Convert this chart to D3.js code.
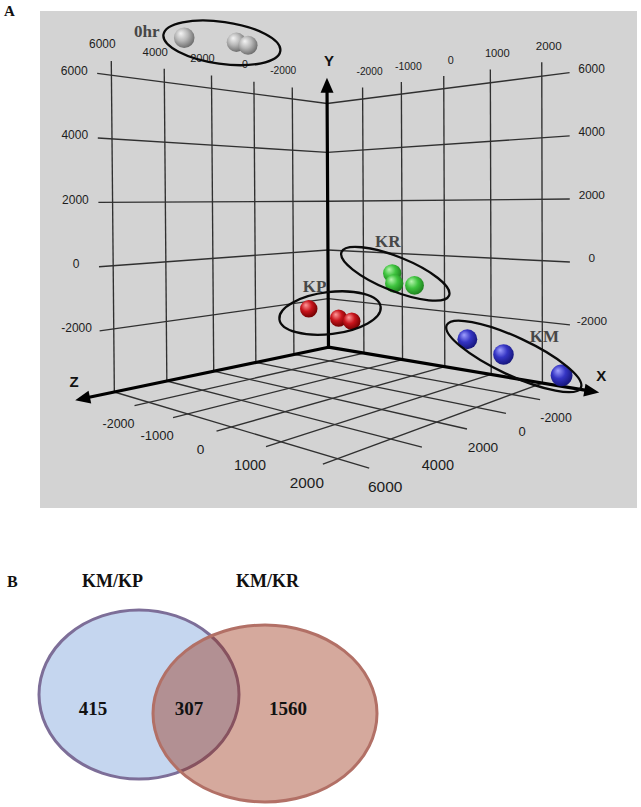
<!DOCTYPE html>
<html><head><meta charset="utf-8">
<script src="https://cdn.jsdelivr.net/npm/d3@7"></script>
<style>body{margin:0;background:#fff;} svg{display:block;}</style>
</head><body>
<svg id="chart" width="641" height="807"></svg>
<script>
// ================= DATA =================
// Panel A: 3D PCA plot
const xTicks = [-2000, -1000, 0, 1000, 2000];     // along the X arrow (right)
const zTicks = [6000, 4000, 2000, 0, -2000];      // along the Z arrow (left)
const yTicks = [6000, 4000, 2000, 0, -2000];      // vertical
const xDomain = [-3000, 2500];
const yDomain = [-4000, 6450];
const zDomain = [-4000, 6500];

const groupNames  = ["0hr", "KP", "KR", "KM"];
const groupColors = {"0hr": ["#f4f4f4", "#b8b8b8", "#6a6a6a"],
                     "KP":  ["#ff9a9a", "#c8141c", "#6e0000"],
                     "KR":  ["#b8f5b0", "#3fc43f", "#1c7f1c"],
                     "KM":  ["#a0a0ff", "#3535c4", "#15157a"]};
const sampleGroup = ["0hr", "0hr", "0hr", "KP", "KP", "KP", "KR", "KR", "KR", "KM", "KM", "KM"];
const sampleX     = [-3000, -3000, -3000, -3000, -2700, -2330, -1250, -1200, -700, 500, 1250, 2350];
const sampleY     = [7600, 7790, 7760, -2300, -2750, -2800, -770, -1150, -1160, -2900, -3250, -3650];
const sampleZ     = [3170, 840, 280, -2850, -4000, -4000, -4000, -4000, -4000, -4000, -4000, -4000];

// Panel B: Venn
const vennSets   = ["KM/KP", "KM/KR"];
const vennCounts = [415, 307, 1560];   // KM/KP only, both, KM/KR only

// ================= PROJECTION (camera calibration) =================
// [x, y, z, screenU, screenV] reference correspondences of the plot box
const calib = [
  [-3000, 6000, -4000, 328, 102], [-3000, 4000, -4000, 328, 152], [-3000, 2000, -4000, 328, 201],
  [-3000, 0, -4000, 328, 250], [-3000, -2000, -4000, 328, 300], [-3000, -4000, -4000, 328, 348],
  [-3000, 6000, 6500, 97, 73], [-3000, 4000, 6500, 99, 138], [-3000, 2000, 6500, 99, 202],
  [-3000, 0, 6500, 100, 265], [-3000, -2000, 6500, 101, 330],
  [2500, 6000, -4000, 570, 73], [2500, 4000, -4000, 570, 136], [2500, 2000, -4000, 570, 200],
  [2500, 0, -4000, 570, 260], [2500, -2000, -4000, 570, 322],
  [-3000, 6450, 6000, 110, 61], [-3000, 6450, 4000, 163, 69], [-3000, 6450, 2000, 211, 76],
  [-3000, 6450, 0, 254, 82], [-3000, 6450, -2000, 293, 87],
  [-2000, 6450, -4000, 361, 88], [-1000, 6450, -4000, 400, 82], [0, 6450, -4000, 443, 77],
  [1000, 6450, -4000, 491, 70], [2000, 6450, -4000, 543, 63],
  [2500, -4000, -2000, 540, 400], [2500, -4000, 0, 505, 413], [2500, -4000, 2000, 467, 429],
  [2500, -4000, 4000, 422, 448], [2500, -4000, 6000, 368, 468],
  [-2000, -4000, 6500, 133, 405], [-1000, -4000, 6500, 172, 418], [0, -4000, 6500, 217, 432],
  [1000, -4000, 6500, 267, 447], [2000, -4000, 6500, 323, 465],
  [-3000, -4000, 6000, 115, 393]
];
const nW = d3.scaleLinear().domain([0, 1000]).range([0, 1]);
const nU = d3.scaleLinear().domain([320, 420]).range([0, 1]);
const nV = d3.scaleLinear().domain([250, 350]).range([0, 1]);

function fitCamera(corr) {
  const rows = [], rhs = [];
  corr.forEach(([x, y, z, u, v]) => {
    const X = nW(x), Y = nW(y), Z = nW(z), U = nU(u), V = nV(v);
    rows.push([X, Y, Z, 1, 0, 0, 0, 0, -U * X, -U * Y, -U * Z]); rhs.push(U);
    rows.push([0, 0, 0, 0, X, Y, Z, 1, -V * X, -V * Y, -V * Z]); rhs.push(V);
  });
  const n = 11;
  const M = Array.from({length: n}, () => new Array(n + 1).fill(0));
  rows.forEach((r, i) => {
    for (let j = 0; j < n; j++) {
      for (let k = 0; k < n; k++) M[j][k] += r[j] * r[k];
      M[j][n] += r[j] * rhs[i];
    }
  });
  for (let c = 0; c < n; c++) {
    let p = c;
    for (let r = c + 1; r < n; r++) if (Math.abs(M[r][c]) > Math.abs(M[p][c])) p = r;
    [M[c], M[p]] = [M[p], M[c]];
    for (let r = 0; r < n; r++) {
      if (r === c) continue;
      const f = M[r][c] / M[c][c];
      for (let k = c; k <= n; k++) M[r][k] -= f * M[c][k];
    }
  }
  return M.map((r, i) => r[n] / r[i]);
}
const P = fitCamera(calib);
function project(x, y, z) {
  const X = nW(x), Y = nW(y), Z = nW(z);
  const w = P[8] * X + P[9] * Y + P[10] * Z + 1;
  return [nU.invert((P[0] * X + P[1] * Y + P[2] * Z + P[3]) / w),
          nV.invert((P[4] * X + P[5] * Y + P[6] * Z + P[7]) / w)];
}
function localScale(x, y, z) {
  const a = project(x, y, z), b = project(x, y + 1000, z);
  return Math.hypot(a[0] - b[0], a[1] - b[1]);
}

// ================= DRAW =================
const svg = d3.select("#chart");
const SANS = "'Liberation Sans', Arial, sans-serif";
const SERIF = "'Liberation Serif', 'Times New Roman', serif";

svg.append("text").attr("x", 4).attr("y", 16).text("A")
  .attr("font-family", SERIF).attr("font-weight", "bold").attr("font-size", 15).attr("fill", "#111");

svg.append("rect").attr("x", 40).attr("y", 11).attr("width", 597).attr("height", 497).attr("fill", "#d3d3d3");

const [x0, x1] = xDomain, [y0, y1] = yDomain, [z0, z1] = zDomain;
const gridLines = [];
// floor
zTicks.forEach(t => gridLines.push([[x0, y0, t], [x1, y0, t]]));
xTicks.forEach(t => gridLines.push([[t, y0, z0], [t, y0, z1]]));
// left wall (x = x0)
zTicks.forEach(t => gridLines.push([[x0, y0, t], [x0, y1, t]]));
yTicks.forEach(t => gridLines.push([[x0, t, z0], [x0, t, z1]]));
// right wall (z = z0)
xTicks.forEach(t => gridLines.push([[t, y0, z0], [t, y1, z0]]));
yTicks.forEach(t => gridLines.push([[x0, t, z0], [x1, t, z0]]));

svg.append("g").selectAll("line").data(gridLines).join("line")
  .each(function (d) {
    const a = project(...d[0]), b = project(...d[1]);
    d3.select(this).attr("x1", a[0]).attr("y1", a[1]).attr("x2", b[0]).attr("y2", b[1]);
  })
  .attr("stroke", "#303030").attr("stroke-width", 1.35);

// axes with arrows
const axes = [
  {name: "Z", from: [x0, y0, z0], to: [x0, y0, 7350], lab: [-1, -18]},
  {name: "X", from: [x0, y0, z0], to: [3000, y0, z0], lab: [2, -17]},
  {name: "Y", from: [x0, y0, z0], to: [x0, 7050, z0], lab: [2, -17]}
];
const axG = svg.append("g");
axes.forEach(ax => {
  const a = project(...ax.from), b = project(...ax.to);
  const dx = b[0] - a[0], dy = b[1] - a[1], L = Math.hypot(dx, dy);
  const ux = dx / L, uy = dy / L, hl = 15, hw = 6.5;
  const base = [b[0] - ux * hl, b[1] - uy * hl];
  axG.append("line").attr("x1", a[0]).attr("y1", a[1]).attr("x2", base[0] + ux * 2).attr("y2", base[1] + uy * 2)
    .attr("stroke", "#000").attr("stroke-width", 3.2).attr("stroke-linecap", "round");
  axG.append("polygon").attr("points", [
    b, [base[0] - uy * hw, base[1] + ux * hw], [base[0] + uy * hw, base[1] - ux * hw]
  ].map(p => p.join(",")).join(" ")).attr("fill", "#000");
  axG.append("text").attr("x", b[0] + ax.lab[0]).attr("y", b[1] + ax.lab[1]).attr("dy", "0.35em")
    .attr("text-anchor", "middle").attr("font-family", SANS).attr("font-weight", "bold")
    .attr("font-size", 15).attr("fill", "#111").text(ax.name);
});

// tick labels
const tickLabels = [];
zTicks.forEach(t => tickLabels.push({t, p: [x0, y1, t], off: [-9, -17]}));          // left wall top
xTicks.forEach(t => tickLabels.push({t, p: [t, y1, z0], off: [7, -16]}));           // right wall top
yTicks.forEach(t => tickLabels.push({t, p: [x0, t, z1], off: [-23, -3]}));          // left Y
yTicks.forEach(t => tickLabels.push({t, p: [x1, t, z0], off: [22, -4]}));           // right Y
xTicks.forEach(t => tickLabels.push({t, p: [t, y0, z1], off: [-16, 18]}));          // floor left
zTicks.forEach(t => tickLabels.push({t, p: [x1, y0, t], off: [16, 18]}));           // floor right
svg.append("g").selectAll("text").data(tickLabels).join("text")
  .each(function (d) {
    const s = project(...d.p), fs = 3 + 0.28 * localScale(...d.p);
    d3.select(this).attr("x", s[0] + d.off[0]).attr("y", s[1] + d.off[1]).attr("font-size", fs.toFixed(1));
  })
  .attr("dy", "0.35em").attr("text-anchor", "middle").attr("font-family", SANS)
  .attr("fill", "#1c1c1c").text(d => d.t);

// sphere gradients
const defs = svg.append("defs");
groupNames.forEach((g, i) => {
  const gr = defs.append("radialGradient").attr("id", "sph" + i)
    .attr("cx", "0.42").attr("cy", "0.4").attr("r", "0.62").attr("fx", "0.33").attr("fy", "0.28");
  const c = groupColors[g];
  gr.append("stop").attr("offset", "0").attr("stop-color", c[0]);
  gr.append("stop").attr("offset", "0.5").attr("stop-color", c[1]);
  gr.append("stop").attr("offset", "1").attr("stop-color", c[2]);
});

const samples = sampleGroup.map((g, i) => {
  const s = project(sampleX[i], sampleY[i], sampleZ[i]);
  return {g, sx: s[0], sy: s[1], r: 0.35 * localScale(sampleX[i], sampleY[i], sampleZ[i])};
});
svg.append("g").selectAll("circle").data(samples).join("circle")
  .attr("cx", d => d.sx).attr("cy", d => d.sy).attr("r", d => d.r)
  .attr("fill", d => "url(#sph" + groupNames.indexOf(d.g) + ")");

// group ellipses and labels (annotations relative to group centroids)
const groupAnno = {
  "0hr": {off: [-1, 1], rx: 59, ry: 21, ang: 8, lab: [-75, -5.5]},
  "KP":  {off: [-3, -3], rx: 51, ry: 21, ang: -7, lab: [-15.5, -21]},
  "KR":  {off: [-5, -7], rx: 58, ry: 17, ang: 22, lab: [-7.5, -27]},
  "KM":  {off: [3, 0], rx: 74, ry: 19, ang: 25, lab: [30.5, -14]}
};
const annoG = svg.append("g");
groupNames.forEach(g => {
  const pts = samples.filter(s => s.g === g);
  const cx = d3.mean(pts, d => d.sx) + groupAnno[g].off[0];
  const cy = d3.mean(pts, d => d.sy) + groupAnno[g].off[1];
  const a = groupAnno[g];
  annoG.append("ellipse").attr("cx", 0).attr("cy", 0).attr("rx", a.rx).attr("ry", a.ry)
    .attr("transform", `translate(${cx},${cy}) rotate(${a.ang})`)
    .attr("fill", "none").attr("stroke", "#0a0a0a").attr("stroke-width", 2.3);
  annoG.append("text").attr("x", cx + a.lab[0]).attr("y", cy + a.lab[1])
    .attr("text-anchor", "middle").attr("font-family", SERIF).attr("font-weight", "bold")
    .attr("font-size", 17).attr("fill", "#474747").text(g);
});

// ================= PANEL B: Venn =================
svg.append("text").attr("x", 7).attr("y", 587).text("B")
  .attr("font-family", SERIF).attr("font-weight", "bold").attr("font-size", 16).attr("fill", "#111");

const vennShapes = [
  {cx: 139, cy: 694.5, rx: 100, ry: 84.5, fill: "rgb(197,214,239)", op: 1, stroke: "rgb(125,110,152)", labX: 112.5},
  {cx: 265, cy: 713.5, rx: 112, ry: 88.5, fill: "rgb(150,40,10)", op: 0.4, stroke: "rgb(178,112,102)", labX: 267.5}
];
const vg = svg.append("g");
vg.selectAll("ellipse.fillv").data(vennShapes).join("ellipse").attr("class", "fillv")
  .attr("cx", d => d.cx).attr("cy", d => d.cy).attr("rx", d => d.rx).attr("ry", d => d.ry)
  .attr("fill", d => d.fill).attr("fill-opacity", d => d.op)
  .attr("stroke", d => d.stroke).attr("stroke-width", 3);
vg.selectAll("text.setlab").data(vennSets).join("text").attr("class", "setlab")
  .attr("x", (d, i) => vennShapes[i].labX).attr("y", 587).attr("text-anchor", "middle")
  .attr("font-family", SERIF).attr("font-weight", "bold").attr("font-size", 18).attr("fill", "#111")
  .text(d => d);
const countX = [93, 189, 288];
vg.selectAll("text.cnt").data(vennCounts).join("text").attr("class", "cnt")
  .attr("x", (d, i) => countX[i]).attr("y", 715).attr("text-anchor", "middle")
  .attr("font-family", SERIF).attr("font-weight", "bold").attr("font-size", 19).attr("fill", "#111")
  .text(d => d);
</script>
</body></html>
